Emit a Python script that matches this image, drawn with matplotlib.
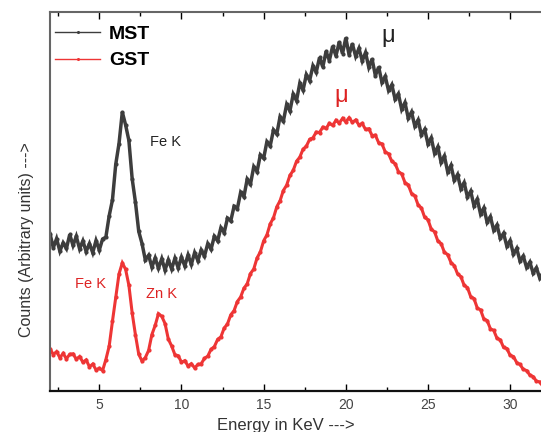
import numpy as np
import matplotlib
matplotlib.use("Agg")
import matplotlib.pyplot as plt

plt.rcParams['font.family'] = ['Liberation Sans', 'DejaVu Sans']

# Energy grid (keV), 0.2 keV steps from 2 to 32
energy = np.round(np.linspace(2.0, 32.0, 151), 2)

mst = [41.5, 37.8, 40.2, 36.9, 39.1, 37.6, 41.3, 38.4, 40.8, 37.5,
       39.6, 36.8, 38.9, 36.5, 39.7, 37.2, 40.1, 40.6, 46.2, 50.4,
       59.8, 65.3, 73.6, 70.2, 66.1, 56.0, 49.8, 42.1, 38.9, 34.6,
       35.8, 32.7, 35.1, 32.4, 34.9, 31.9, 34.6, 32.2, 35.0, 32.5,
       35.3, 33.0, 35.9, 33.4, 36.5, 34.4, 37.2, 35.6, 38.9, 37.4,
       40.8, 39.6, 43.1, 41.8, 45.6, 44.9, 48.7, 48.1, 52.4, 51.3,
       55.9, 54.6, 59.2, 57.9, 62.3, 61.4, 65.8, 64.7, 68.9, 67.8,
       72.4, 71.2, 75.6, 73.9, 78.3, 76.6, 81.2, 79.4, 83.5, 81.9,
       85.8, 84.1, 88.0, 85.5, 89.6, 87.2, 91.0, 88.4, 92.1, 89.0,
       93.2, 88.7, 91.6, 88.3, 90.4, 87.1, 89.3, 85.4, 87.6, 83.2,
       85.5, 81.4, 83.0, 79.3, 80.8, 77.0, 78.4, 74.3, 76.1, 72.0,
       73.6, 69.9, 71.5, 67.6, 69.0, 65.2, 66.8, 62.7, 64.4, 60.3,
       62.0, 57.8, 59.5, 55.6, 57.1, 53.4, 55.0, 51.2, 52.7, 48.9,
       50.6, 46.7, 48.3, 44.5, 46.0, 42.4, 43.8, 40.3, 41.6, 38.2,
       39.7, 36.1, 37.6, 34.3, 35.6, 32.6, 34.0, 31.1, 32.5, 29.8,
       31.2]

gst = [11.2, 9.6, 10.4, 8.8, 9.9, 8.5, 9.7, 9.8, 8.4, 9.1,
       7.6, 8.2, 6.4, 7.1, 5.6, 6.0, 5.4, 8.3, 11.8, 18.4,
       24.7, 30.9, 33.8, 32.1, 27.9, 20.6, 14.8, 9.7, 7.9, 8.8,
       10.7, 14.9, 17.3, 20.4, 19.7, 17.8, 13.7, 11.9, 9.6, 9.3,
       7.6, 8.0, 6.6, 7.2, 6.1, 7.0, 7.2, 8.6, 9.2, 11.0,
       11.7, 13.6, 14.3, 16.6, 17.7, 20.1, 21.2, 23.6, 24.8, 27.1,
       28.3, 31.0, 32.2, 35.1, 36.7, 39.6, 41.2, 44.1, 45.7, 48.6,
       50.2, 52.9, 54.3, 56.9, 58.2, 60.6, 61.7, 63.8, 64.6, 66.4,
       66.8, 68.3, 68.2, 69.6, 69.3, 70.6, 70.1, 71.4, 70.7, 71.9,
       71.0, 72.1, 70.9, 71.5, 70.2, 70.6, 69.0, 69.2, 67.4, 67.5,
       65.5, 65.2, 63.1, 62.6, 60.6, 60.0, 57.9, 57.3, 55.0, 54.4,
       52.1, 51.5, 49.1, 48.3, 45.8, 45.2, 42.7, 42.0, 39.6, 38.9,
       36.6, 36.0, 33.9, 33.1, 30.9, 30.2, 27.9, 27.3, 24.9, 24.4,
       21.9, 21.4, 19.0, 18.6, 16.4, 16.0, 13.9, 13.5, 11.5, 11.2,
       9.4, 9.1, 7.5, 7.0, 5.7, 5.4, 4.2, 3.8, 2.6, 2.4,
       1.2]

xticks = [5, 10, 15, 20, 25, 30]

mst_color = '#3d3d3d'
gst_color = '#ee3535'

fig = plt.figure(figsize=(5.41, 4.32), dpi=100)
ax = fig.add_axes([50 / 541, 1 - 391 / 432, 493 / 541, 379 / 432])

ax.plot(energy, mst, color=mst_color, lw=2.5, marker='.', ms=4,
        solid_joinstyle='miter', label='MST')
ax.plot(energy, gst, color=gst_color, lw=2.2, marker='.', ms=4,
        solid_joinstyle='miter', label='GST')

ax.set_xlim(2, 32)
ax.set_ylim(0, 100)
ax.set_xticks(xticks)
ax.set_xticks(np.arange(2.5, 32, 2.5), minor=True)
ax.set_yticks([])
ax.tick_params(axis='x', which='both', direction='in', top=True, bottom=True,
               labelsize=10, labelcolor='#444444', pad=5)
ax.tick_params(axis='x', which='major', length=5, width=1)
ax.tick_params(axis='x', which='minor', length=3, width=1)

for s in ['left', 'top']:
    ax.spines[s].set_color('#666666')
    ax.spines[s].set_linewidth(1.5)
ax.spines['bottom'].set_color('#111111')
ax.spines['bottom'].set_linewidth(1.6)
ax.spines['right'].set_visible(False)

ax.set_xlabel('Energy in KeV --->', fontsize=12, color='#333333', labelpad=0)
ax.xaxis.set_label_coords(0.478, -0.072)
ax.set_ylabel('Counts (Arbitrary units) --->', fontsize=11.5, color='#333333')
ax.yaxis.set_label_coords(-0.033, 0.40)

leg = ax.legend(loc='upper left', frameon=False, prop={'weight': 'bold', 'size': 14},
                handlelength=2.3, handletextpad=0.45, borderaxespad=0.0,
                labelspacing=0.45, numpoints=1, markerscale=0.6,
                bbox_to_anchor=(-0.005, 0.985))
for h in leg.get_lines():
    h.set_linewidth(1.0)

ax.text(8.1, 65.7, 'Fe K', fontsize=10.5, color='#222222', ha='left', va='center')
ax.text(22.6, 93.7, 'μ', fontsize=17, color='#222222', ha='center', va='center')
ax.text(19.7, 77.8, 'μ', fontsize=17, color='#dd2222', ha='center', va='center')
ax.text(4.45, 28.2, 'Fe K', fontsize=10.5, color='#dd2222', ha='center', va='center')
ax.text(8.8, 25.6, 'Zn K', fontsize=10.5, color='#dd2222', ha='center', va='center')

fig.savefig('out.png', dpi=100)
